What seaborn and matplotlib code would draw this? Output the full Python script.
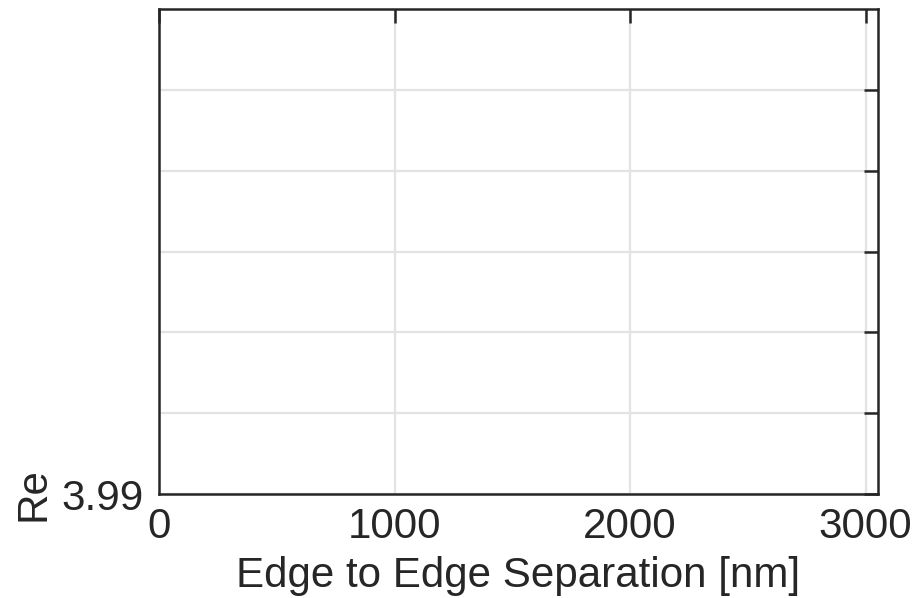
import matplotlib
matplotlib.use("Agg")
import matplotlib.pyplot as plt
import seaborn as sns
import numpy as np

# Axis settings
x_ticks = [0, 1000, 2000, 3000]
x_limits = [0, 3053]
y_base = 3.99
y_step = 0.0001
y_ticks = [y_base + k * y_step for k in range(6)]
y_tick_labels = ["3.99", "", "", "", "", ""]
y_limits = [y_base, y_base + 6 * y_step]
x_label = "Edge to Edge Separation [nm]"
y_label = "Re"

sns.set_style("white")
plt.rcParams["font.family"] = ["Liberation Sans", "DejaVu Sans"]

ink = "#262626"
fs = 30.3
fig = plt.figure(figsize=(9.14, 5.98), dpi=100)
ax = fig.add_axes([159 / 914, 1 - 494 / 598, (878 - 159) / 914, (494 - 9) / 598])

ax.set_xlim(*x_limits)
ax.set_ylim(*y_limits)
ax.set_xticks(x_ticks)
ax.set_xticklabels([str(t) for t in x_ticks])
ax.set_yticks(y_ticks)
ax.set_yticklabels(y_tick_labels)

ax.grid(True, color="#e3e3e3", linewidth=1.6)
ax.set_axisbelow(True)
for s in ax.spines.values():
    s.set_color(ink)
    s.set_linewidth(1.8)
    s.set_visible(True)

ax.tick_params(axis="both", which="major", direction="in", length=10, width=1.8,
               color=ink, labelcolor=ink, labelsize=fs, top=True, right=True,
               pad=11)
ax.tick_params(axis="x", pad=9)

ax.set_xlabel(x_label, fontsize=fs, color=ink, labelpad=7)
ax.set_ylabel(y_label, fontsize=fs, color=ink)
ax.yaxis.set_label_coords(-(159 - 33) / (878 - 159), 0.0)
ax.yaxis.label.set_va("center")

fig.savefig("out.png", dpi=100, facecolor="white")
